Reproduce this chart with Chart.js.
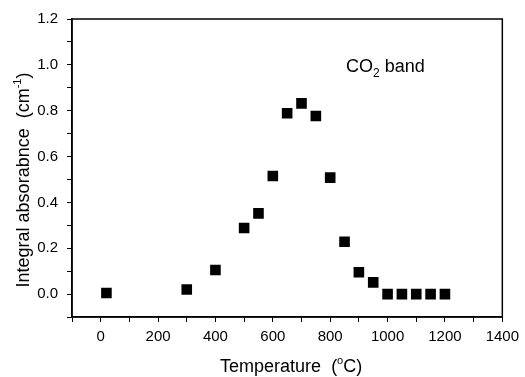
<!DOCTYPE html>
<html>
<head>
<meta charset="utf-8">
<script src="https://cdn.jsdelivr.net/npm/chart.js@4"></script>
<style>
  html, body { margin: 0; padding: 0; background: #fff; }
  canvas { display: block; }
</style>
</head>
<body>
<canvas id="chart" width="525" height="377"></canvas>
<script>
// CO2 band: integral absorbance vs temperature
const temperatures = [20, 300, 400, 500, 550, 600, 650, 700, 750, 800, 850, 900, 950, 1000, 1050, 1100, 1150, 1200];
const absorbance = [0.005, 0.02, 0.105, 0.288, 0.352, 0.515, 0.789, 0.832, 0.777, 0.508, 0.228, 0.095, 0.051, 0, 0, 0, 0, 0];

const xRange = [-100, 1400];
const yRange = [-0.1, 1.2];

const FONT = '"Liberation Sans", Arial, sans-serif';

// draws a run of text pieces, some smaller and shifted (sub/superscripts)
function drawRuns(ctx, runs, x, y, align) {
    let total = 0;
    runs.forEach(r => {
        ctx.font = r.size + 'px ' + FONT;
        r.w = ctx.measureText(r.text).width;
        total += r.w;
    });
    let cx = align === 'center' ? x - total / 2 : x;
    runs.forEach(r => {
        ctx.font = r.size + 'px ' + FONT;
        ctx.fillText(r.text, cx, y + (r.dy || 0));
        cx += r.w;
    });
}

const framePlugin = {
    id: 'frame',
    afterDraw(chart) {
        const { ctx, chartArea: a, scales } = chart;
        ctx.save();
        ctx.strokeStyle = '#000';
        ctx.lineWidth = 1.5;
        ctx.strokeRect(a.left, a.top, a.right - a.left, a.bottom - a.top);

        ctx.fillStyle = '#000';
        ctx.textBaseline = 'alphabetic';
        ctx.textAlign = 'left';

        // x axis title
        drawRuns(ctx, [
            { text: 'Temperature  (', size: 18 },
            { text: 'o', size: 11, dy: -8 },
            { text: 'C)', size: 18 }
        ], (a.left + a.right) / 2 + 4, 372, 'center');

        // y axis title
        ctx.save();
        ctx.translate(29, 180);
        ctx.rotate(-Math.PI / 2);
        drawRuns(ctx, [
            { text: 'Integral absorabnce  (cm', size: 18 },
            { text: '-1', size: 11, dy: -8 },
            { text: ')', size: 18 }
        ], 0, 0, 'center');
        ctx.restore();

        // band label
        const lx = scales.x.getPixelForValue(855);
        const ly = scales.y.getPixelForValue(0.97);
        drawRuns(ctx, [
            { text: 'CO', size: 18 },
            { text: '2', size: 12, dy: 5 },
            { text: ' band', size: 18 }
        ], lx, ly, 'left');
        ctx.restore();
    }
};

const ctx = document.getElementById('chart').getContext('2d');
new Chart(ctx, {
    type: 'scatter',
    data: {
        datasets: [{
            label: 'CO2 band',
            data: temperatures.map((t, i) => ({ x: t, y: absorbance[i] })),
            pointStyle: 'rect',
            pointRadius: 7.5,
            pointHoverRadius: 7.5,
            backgroundColor: '#000',
            borderColor: '#000',
            borderWidth: 0
        }]
    },
    options: {
        responsive: false,
        animation: false,
        devicePixelRatio: 1,
        layout: { padding: { top: 19, right: 18, left: 0, bottom: 0 } },
        plugins: {
            legend: { display: false },
            tooltip: { enabled: false }
        },
        scales: {
            x: {
                type: 'linear',
                min: xRange[0],
                max: xRange[1],
                afterFit: s => { s.height = 60; },
                border: { display: true, color: '#000', width: 1.5 },
                grid: { drawOnChartArea: false, drawTicks: true, tickLength: 5, color: '#000', lineWidth: 1 },
                ticks: {
                    stepSize: 100,
                    autoSkip: false,
                    maxRotation: 0,
                    padding: 6,
                    color: '#000',
                    font: { family: FONT, size: 15 },
                    callback: v => (v >= 0 && v % 200 === 0) ? String(v) : ''
                }
            },
            y: {
                min: yRange[0],
                max: yRange[1],
                afterFit: s => { s.width = 72; },
                border: { display: true, color: '#000', width: 1.5 },
                grid: { drawOnChartArea: false, drawTicks: true, tickLength: 5, color: '#000', lineWidth: 1 },
                ticks: {
                    stepSize: 0.1,
                    autoSkip: false,
                    padding: 9,
                    color: '#000',
                    font: { family: FONT, size: 15 },
                    callback: v => {
                        const k = Math.round(v * 10);
                        return (k >= 0 && k % 2 === 0) ? (k / 10).toFixed(1) : '';
                    }
                }
            }
        }
    },
    plugins: [framePlugin]
});
</script>
</body>
</html>
